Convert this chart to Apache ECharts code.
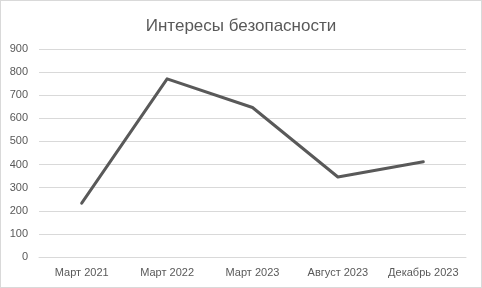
<!DOCTYPE html>
<html><head><meta charset="utf-8">
<script src="https://cdn.jsdelivr.net/npm/echarts@6/dist/echarts.min.js"></script>
<style>html,body{margin:0;padding:0;background:#fff}#c{width:482px;height:288px;box-sizing:border-box;border:1px solid #d9d9d9}</style>
</head><body><div id="c"></div>
<script>
var categories = ['Март 2021', 'Март 2022', 'Март 2023', 'Август 2023', 'Декабрь 2023'];
var values = [233, 771, 647, 346, 412];
var yTicks = {min: 0, max: 900, interval: 100};
var title = 'Интересы безопасности';

var chart = echarts.init(document.getElementById('c'), null, {renderer: 'canvas'});
chart.setOption({
  animation: false,
  title: {text: title, left: 'center', top: 12, textStyle: {fontFamily: 'Liberation Sans', fontSize: 17, fontWeight: 'normal', color: '#595959'}},
  grid: {left: 38, right: 15, top: 48, bottom: 30},
  xAxis: {type: 'category', data: categories, boundaryGap: true,
    axisLine: {show: true, lineStyle: {color: '#d9d9d9'}}, axisTick: {show: false},
    axisLabel: {color: '#595959', fontFamily: 'Liberation Sans', fontSize: 11, margin: 10, interval: 0}},
  yAxis: {type: 'value', min: yTicks.min, max: yTicks.max, interval: yTicks.interval,
    axisLine: {show: false}, axisTick: {show: false},
    splitLine: {lineStyle: {color: '#d9d9d9', width: 1}},
    axisLabel: {color: '#595959', fontFamily: 'Liberation Sans', fontSize: 11, margin: 11}},
  series: [{type: 'line', data: values, symbol: 'none', lineStyle: {color: '#595959', width: 3, cap: 'round', join: 'round'}}]
});
</script></body></html>
